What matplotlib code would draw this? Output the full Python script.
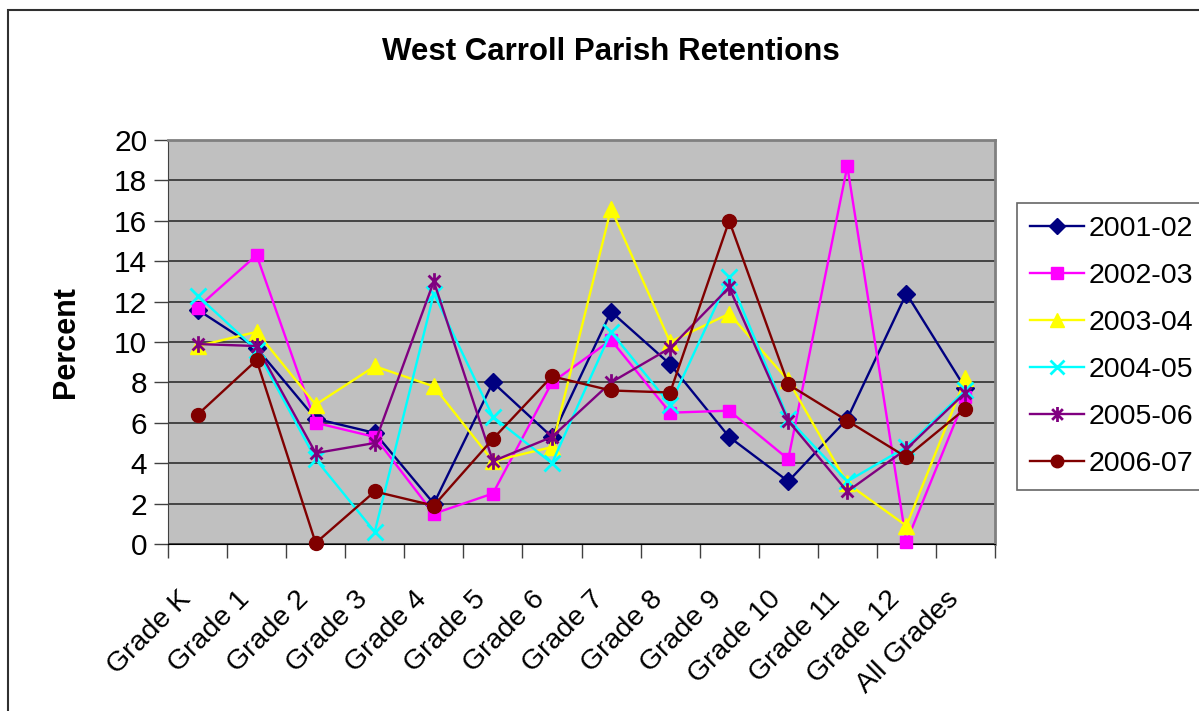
import numpy as np
import matplotlib.pyplot as plt
from matplotlib.path import Path
from matplotlib.patches import Rectangle
from matplotlib.transforms import ScaledTranslation

plt.rcParams['font.family'] = ['Liberation Sans', 'DejaVu Sans']

# Categories and series
grades = ["Grade K", "Grade 1", "Grade 2", "Grade 3", "Grade 4", "Grade 5", "Grade 6",
          "Grade 7", "Grade 8", "Grade 9", "Grade 10", "Grade 11", "Grade 12", "All Grades"]

y2001_02 = [11.6, 9.7, 6.2, 5.5, 2.0, 8.0, 5.3, 11.5, 8.9, 5.3, 3.1, 6.2, 12.4, 7.7]
y2002_03 = [11.7, 14.3, 6.0, 5.3, 1.5, 2.5, 8.0, 10.1, 6.5, 6.6, 4.2, 18.7, 0.1, 7.3]
y2003_04 = [9.8, 10.5, 6.9, 8.8, 7.8, 4.1, 4.8, 16.6, 10.0, 11.4, 8.1, 3.0, 0.9, 8.2]
y2004_05 = [12.3, 9.6, 4.2, 0.6, 12.4, 6.3, 4.0, 10.5, 6.9, 13.2, 6.2, 3.1, 4.8, 7.6]
y2005_06 = [9.9, 9.8, 4.5, 5.0, 13.0, 4.1, 5.3, 8.0, 9.7, 12.7, 6.1, 2.6, 4.7, 7.5]
y2006_07 = [6.4, 9.1, 0.05, 2.6, 1.9, 5.2, 8.3, 7.6, 7.5, 16.0, 7.9, 6.1, 4.3, 6.7]

# asterisk marker: x plus vertical bar
star = Path([(-1, -1), (1, 1), (-1, 1), (1, -1), (0, -1.4), (0, 1.4)],
            [Path.MOVETO, Path.LINETO, Path.MOVETO, Path.LINETO, Path.MOVETO, Path.LINETO])

series = [
    ("2001-02", y2001_02, "#000080", "D", 9),
    ("2002-03", y2002_03, "#FF00FF", "s", 9),
    ("2003-04", y2003_04, "#FFFF00", "^", 11),
    ("2004-05", y2004_05, "#00FFFF", "x", 11),
    ("2005-06", y2005_06, "#800080", star, 12),
    ("2006-07", y2006_07, "#800000", "o", 10),
]

fig = plt.figure(figsize=(11.99, 7.11), dpi=100)
ax = fig.add_axes([168 / 1199, 1 - 544 / 711, 827 / 1199, 404 / 711])
ax.set_facecolor("#C0C0C0")

x = np.arange(len(grades))
for name, vals, col, mk, ms in series:
    thin = mk == "x" or mk is star
    ax.plot(x, vals, color=col, lw=1.7, marker=mk, markersize=ms,
            markerfacecolor=col, markeredgecolor=col, markeredgewidth=2 if thin else 1,
            label=name, clip_on=False, zorder=3)

ax.set_xlim(-0.5, len(grades) - 0.5)
ax.set_ylim(0, 20)
ax.set_yticks(np.arange(0, 21, 2))
ax.yaxis.grid(True, color="#3a3a3a", lw=1.3)
ax.set_axisbelow(True)

ax.set_xticks(x)
ax.set_xticklabels(grades, rotation=45, ha="right", va="center", rotation_mode="anchor")
ax.set_xticks(np.arange(-0.5, len(grades), 1), minor=True)
ax.tick_params(axis="x", which="major", length=0, pad=37, labelsize=20.5)
ax.tick_params(axis="x", which="minor", length=10, width=1, color="#404040", direction="out")
ax.tick_params(axis="y", length=10, width=1, color="#404040", labelsize=21.5, pad=5)
shift = ScaledTranslation(-0.11, 0, fig.dpi_scale_trans)
for lbl in ax.get_xticklabels():
    lbl.set_transform(lbl.get_transform() + shift)

for s in ("top", "right"):
    ax.spines[s].set_color("#808080")
    ax.spines[s].set_linewidth(2)
ax.spines["left"].set_color("#404040")
ax.spines["bottom"].set_color("#000000")

ax.set_ylabel("Percent", fontsize=22, fontweight="bold", labelpad=24)

fig.text(611 / 1199, 1 - 52 / 711, "West Carroll Parish Retentions", fontsize=22.5,
         fontweight="bold", ha="center", va="center")

leg = fig.legend(loc="upper left", bbox_to_anchor=(1017 / 1199, 1 - 203 / 711),
                 fontsize=20.5, frameon=True, fancybox=False, edgecolor="#404040",
                 handlelength=1.9, labelspacing=0.74, borderpad=0.45, handletextpad=0.15,
                 borderaxespad=0, markerscale=0.9)
leg.get_frame().set_linewidth(1.2)

# outer chart border
fig.patches.append(Rectangle((8 / 1199, -0.05), 1.1, 1 - 10 / 711 + 0.05,
                             transform=fig.transFigure, fill=False, ec="#303030", lw=1.5))

fig.savefig("out.png", dpi=100)
